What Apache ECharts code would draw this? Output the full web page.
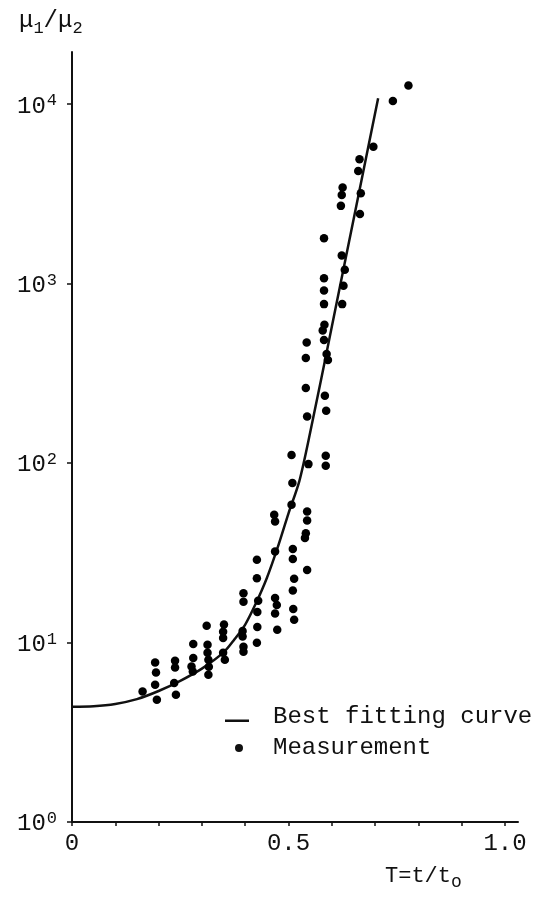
<!DOCTYPE html>
<html><head><meta charset="utf-8">
<script src="https://cdn.jsdelivr.net/npm/echarts@6/dist/echarts.min.js"></script>
<style>html,body{margin:0;padding:0;background:#fff}#c{width:552px;height:897px}</style>
</head><body><div id="c"></div>
<script>
const FONT = '"Liberation Mono", "Courier New", monospace';

// Best fitting curve (T, mu1/mu2)
const curveT = [0, 0.05, 0.10, 0.15, 0.20, 0.25, 0.30, 0.35, 0.375, 0.40, 0.425, 0.45, 0.475, 0.50, 0.525, 0.55, 0.60, 0.65, 0.707];
const curveV = [4.39, 4.42, 4.55, 4.84, 5.37, 6.12, 7.16, 8.81, 10.4, 12.6, 16.6, 22.9, 33.9, 52.5, 79.4, 148, 575, 2265, 10790];

// Measurements
const measT = [
  0.163,
  0.192, 0.194, 0.192, 0.196,
  0.238, 0.238, 0.236, 0.240,
  0.280, 0.280, 0.276, 0.279,
  0.311, 0.313, 0.313, 0.315, 0.316, 0.315,
  0.351, 0.349, 0.349, 0.349, 0.353,
  0.396, 0.396, 0.394, 0.394, 0.396, 0.396,
  0.427, 0.427, 0.430, 0.428, 0.428, 0.427,
  0.467, 0.469, 0.469, 0.469, 0.473, 0.469, 0.474,
  0.507, 0.509, 0.507, 0.510, 0.510, 0.513, 0.510, 0.511, 0.513,
  0.542, 0.540, 0.540, 0.543, 0.546, 0.543, 0.543, 0.540, 0.538, 0.543,
  0.582, 0.582, 0.582, 0.582, 0.583, 0.579, 0.582, 0.588, 0.591, 0.584, 0.587, 0.586, 0.586,
  0.625, 0.623, 0.621, 0.623, 0.630, 0.627, 0.624,
  0.664, 0.661, 0.667, 0.665,
  0.696, 0.741, 0.777
];
const measV = [
  5.34,
  7.75, 6.81, 5.82, 4.80,
  7.92, 7.27, 5.95, 5.12,
  9.81, 8.20, 7.36, 6.90,
  12.4, 9.72, 8.77, 8.02, 7.33, 6.62,
  12.6, 11.5, 10.6, 8.77, 8.02,
  18.8, 16.9, 11.6, 10.8, 9.48, 8.89,
  28.9, 22.8, 17.1, 14.8, 12.2, 9.97,
  51.5, 47.3, 32.2, 17.7, 16.2, 14.5, 11.8,
  111, 77.4, 58.6, 33.2, 29.2, 22.7, 19.5, 15.4, 13.4,
  470, 385, 262, 182, 98.7, 53.8, 47.9, 40.7, 38.2, 25.4,
  1793, 1073, 915, 769, 590, 548, 486, 406, 376, 237, 196, 110, 96.6,
  3430, 3123, 2713, 1435, 1194, 972, 769,
  4940, 4250, 3193, 2448,
  5800, 10430, 12700
];

// Axis ticks and labels
const xTickValues = [0, 0.1, 0.2, 0.3, 0.4, 0.5, 0.6, 0.7, 0.8, 0.9, 1.0];
const xLabelValues = [0, 0.5, 1.0];
const xLabelTexts = ['0', '0.5', '1.0'];
const yTickValues = [1, 10, 100, 1000, 10000];
const yTickExponents = ['0', '1', '2', '3', '4'];

const seriesNames = ['Best fitting curve', 'Measurement'];

const chart = echarts.init(document.getElementById('c'), null, {renderer: 'canvas'});
const INK = '#111';

const option = {
  backgroundColor: '#fff',
  animation: false,
  title: [
    {
      text: '{m|\u03bc}{s|1}{m|/\u03bc}{s|2}',
      left: 14, top: 8,
      textStyle: {
        fontWeight: 'normal',
        rich: {
          m: {fontFamily: FONT, fontSize: 24, fontWeight: 'normal', color: INK, lineHeight: 24, padding: [0, 0, 8, 0]},
          s: {fontFamily: FONT, fontSize: 17, fontWeight: 'normal', color: INK, lineHeight: 17, verticalAlign: 'bottom'}
        }
      }
    },
    {
      text: '{m|T=t/t}{s|o}',
      left: 380, top: 864,
      textStyle: {
        fontWeight: 'normal',
        rich: {
          m: {fontFamily: FONT, fontSize: 22, fontWeight: 'normal', color: INK, lineHeight: 22, padding: [0, 0, 8, 0]},
          s: {fontFamily: FONT, fontSize: 18, fontWeight: 'normal', color: INK, lineHeight: 18, verticalAlign: 'bottom'}
        }
      }
    }
  ],
  legend: {
    orient: 'vertical',
    left: 225, top: 705,
    itemWidth: 43, itemHeight: 14, itemGap: 7,
    padding: 0,
    textStyle: {fontFamily: FONT, fontSize: 24, color: INK},
    data: [
      {name: seriesNames[0], icon: 'path://M0,0h0.01v0.01h-0.01zM43,14h-0.01v-0.01h0.01zM0,9.5h24v2.5h-24z', itemStyle: {color: INK, opacity: 1}},
      {name: seriesNames[1], icon: 'path://M0,0h0.01v0.01h-0.01zM43,14h-0.01v-0.01h0.01zM10,7a4,4 0 1,0 8,0a4,4 0 1,0 -8,0z', itemStyle: {color: INK, opacity: 1}}
    ]
  },
  grid: {left: 72, top: 52, width: 446, height: 770, containLabel: false},
  xAxis: {
    type: 'value',
    min: 0, max: 1.03,
    axisLine: {show: true, lineStyle: {color: INK, width: 2}},
    axisTick: {show: true, inside: false, length: 4, lineStyle: {color: INK, width: 1.5}, customValues: xTickValues},
    axisLabel: {
      show: true, margin: 10, customValues: xLabelValues,
      fontFamily: FONT, fontSize: 24, color: INK,
      formatter: function (v) {
        const i = xLabelValues.findIndex(x => Math.abs(x - v) < 1e-9);
        return i >= 0 ? xLabelTexts[i] : '';
      }
    },
    splitLine: {show: false}
  },
  yAxis: {
    type: 'log', logBase: 10,
    min: 1, max: 19540,
    axisLine: {show: true, lineStyle: {color: INK, width: 2}},
    axisTick: {show: true, inside: false, length: 5, lineStyle: {color: INK, width: 1.5}, customValues: yTickValues},
    axisLabel: {
      show: true, margin: 15, customValues: yTickValues,
      formatter: function (v) {
        const i = yTickValues.findIndex(x => Math.abs(x - v) / x < 1e-6);
        return i >= 0 ? '{b|10}{e|' + yTickExponents[i] + '}' : '';
      },
      rich: {
        b: {fontFamily: FONT, fontSize: 24, color: INK, lineHeight: 24, padding: [10, 0, 6, 0]},
        e: {fontFamily: FONT, fontSize: 17, color: INK, lineHeight: 17, verticalAlign: 'top', padding: [0, 0, 0, 1]}
      }
    },
    splitLine: {show: false},
    minorTick: {show: false}
  },
  series: [
    {
      name: seriesNames[0],
      type: 'line',
      data: curveT.map((t, i) => [t, curveV[i]]),
      smooth: 0.3,
      showSymbol: false,
      symbol: 'none',
      lineStyle: {color: INK, width: 2.5},
      itemStyle: {color: INK},
      z: 2
    },
    {
      name: seriesNames[1],
      type: 'scatter',
      data: measT.map((t, i) => [t, measV[i]]),
      symbol: 'circle',
      symbolSize: 8.5,
      itemStyle: {color: '#000', opacity: 1},
      z: 3
    }
  ]
};
chart.setOption(option);
</script>
</body></html>
